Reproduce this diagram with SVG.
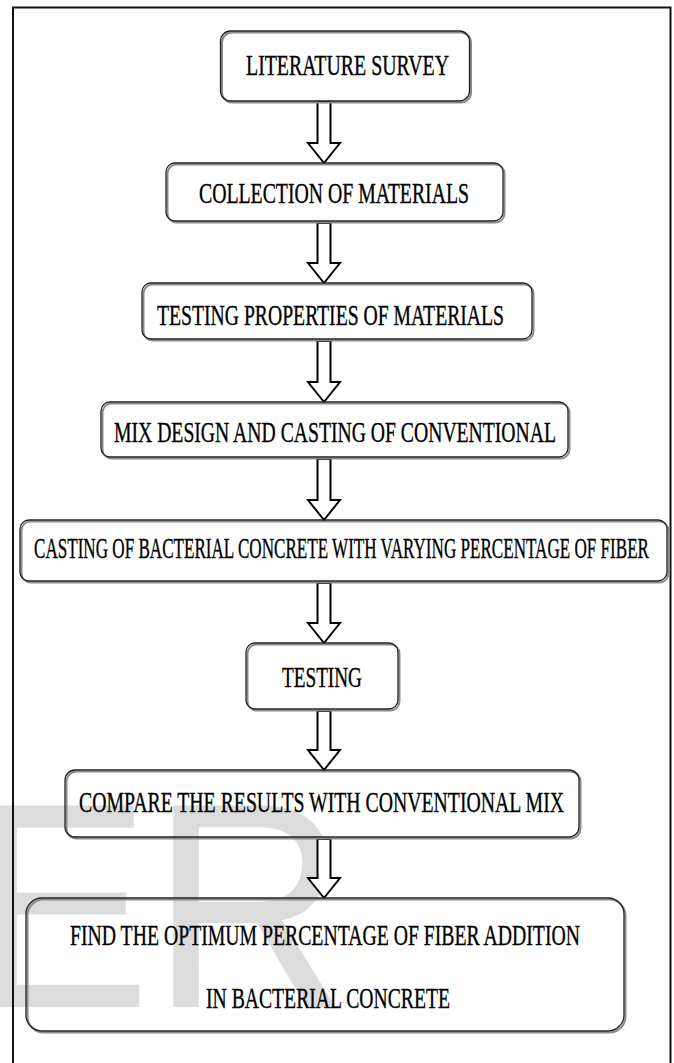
<svg xmlns="http://www.w3.org/2000/svg" width="674" height="1063" viewBox="0 0 674 1063">
  <style>
    .frame{fill:none;stroke:#111;stroke-width:2}
    .shadow{fill:none;stroke:#8c8c8c;stroke-width:2}
    .box{fill:none;stroke:#222;stroke-width:1.3}
    .lbl{font-family:"Liberation Serif","Times New Roman","DejaVu Serif",serif;font-size:29px;fill:#000;stroke:#000;stroke-width:0.35}
    .arrow{fill:#fff;stroke:#000;stroke-width:2;stroke-linejoin:miter}
    .wm{font-family:"Liberation Sans",Arial,sans-serif;font-size:293px;fill:#dcdcdc}
  </style>
  <rect x="0" y="0" width="674" height="1063" fill="#fff"/>
  <text class="wm" x="-31" y="1007" textLength="379" lengthAdjust="spacingAndGlyphs">ER</text>
  <path class="frame" d="M13,1063 V7.5 H670.5 V1063"/>

  <g id="connectors">
    <path class="arrow" d="M317.5,102 V143 H308 L324,163 L340,143 H330.5 V102 Z"/>
    <path class="arrow" d="M317.5,223 V263 H308 L324,283 L340,263 H330.5 V223 Z"/>
    <path class="arrow" d="M317.5,341 V382 H308 L324,402 L340,382 H330.5 V341 Z"/>
    <path class="arrow" d="M317.5,459 V500 H308 L324,520 L340,500 H330.5 V459 Z"/>
    <path class="arrow" d="M317.5,583 V623 H308 L324,643 L340,623 H330.5 V583 Z"/>
    <path class="arrow" d="M317.5,711 V750 H308 L324,770 L340,750 H330.5 V711 Z"/>
    <path class="arrow" d="M317.5,839 V878 H308 L324,898 L340,878 H330.5 V839 Z"/>
  </g>

  <g id="n1">
    <rect class="shadow" x="222" y="32.5" width="249" height="70" rx="10"/>
    <rect class="box" x="220.5" y="31" width="249" height="70" rx="10"/>
    <text class="lbl" x="246" y="75" textLength="203" lengthAdjust="spacingAndGlyphs">LITERATURE SURVEY</text>
  </g>
  <g id="n2">
    <rect class="shadow" x="167.5" y="164.5" width="337" height="58" rx="9"/>
    <rect class="box" x="166" y="163" width="337" height="58" rx="9"/>
    <text class="lbl" x="199" y="203" textLength="270" lengthAdjust="spacingAndGlyphs">COLLECTION OF MATERIALS</text>
  </g>
  <g id="n3">
    <rect class="shadow" x="143.5" y="284.5" width="390" height="56" rx="9"/>
    <rect class="box" x="142" y="283" width="390" height="56" rx="9"/>
    <text class="lbl" x="157" y="325" textLength="347" lengthAdjust="spacingAndGlyphs">TESTING PROPERTIES OF MATERIALS</text>
  </g>
  <g id="n4">
    <rect class="shadow" x="102.5" y="403.5" width="467" height="55" rx="9"/>
    <rect class="box" x="101" y="402" width="467" height="55" rx="9"/>
    <text class="lbl" x="114" y="442" textLength="442" lengthAdjust="spacingAndGlyphs">MIX DESIGN AND CASTING OF CONVENTIONAL</text>
  </g>
  <g id="n5">
    <rect class="shadow" x="21.5" y="521.5" width="647" height="61" rx="9"/>
    <rect class="box" x="20" y="520" width="647" height="61" rx="9"/>
    <text class="lbl" x="34" y="558" textLength="615" lengthAdjust="spacingAndGlyphs">CASTING OF BACTERIAL CONCRETE WITH VARYING PERCENTAGE OF FIBER</text>
  </g>
  <g id="n6">
    <rect class="shadow" x="247.5" y="644.5" width="152" height="66" rx="9"/>
    <rect class="box" x="246" y="643" width="152" height="66" rx="9"/>
    <text class="lbl" x="282" y="687" textLength="80" lengthAdjust="spacingAndGlyphs">TESTING</text>
  </g>
  <g id="n7">
    <rect class="shadow" x="66.5" y="771.5" width="514" height="67" rx="10"/>
    <rect class="box" x="65" y="770" width="514" height="67" rx="10"/>
    <text class="lbl" x="79" y="812" textLength="485" lengthAdjust="spacingAndGlyphs">COMPARE THE RESULTS WITH CONVENTIONAL MIX</text>
  </g>
  <g id="n8">
    <rect class="shadow" x="27.5" y="899.5" width="598" height="133" rx="16"/>
    <rect class="box" x="26" y="898" width="598" height="133" rx="16"/>
    <text class="lbl" x="70" y="945" textLength="510" lengthAdjust="spacingAndGlyphs">FIND THE OPTIMUM PERCENTAGE OF FIBER ADDITION</text>
    <text class="lbl" x="206" y="1008" textLength="244" lengthAdjust="spacingAndGlyphs">IN BACTERIAL CONCRETE</text>
  </g>
</svg>
